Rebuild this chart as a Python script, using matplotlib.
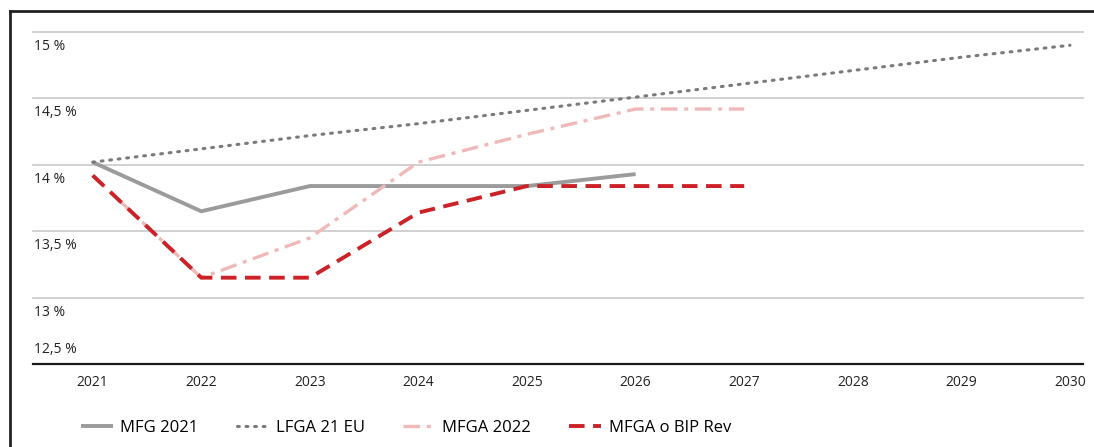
import matplotlib
matplotlib.use("Agg")
import matplotlib.pyplot as plt
import matplotlib.transforms as mtransforms
from matplotlib.lines import Line2D

plt.rcParams['font.family'] = ['Open Sans', 'DejaVu Sans']

# data
years = [2021, 2022, 2023, 2024, 2025, 2026, 2027, 2028, 2029, 2030]
mfg_2021 = [14.02, 13.65, 13.84, 13.84, 13.84, 13.93]
lfga_21_eu = [14.02, 14.12, 14.22, 14.31, 14.41, 14.51, 14.61, 14.71, 14.81, 14.90]
mfga_2022 = [13.92, 13.15, 13.45, 14.02, 14.23, 14.42, 14.42]
mfga_bip_rev = [13.92, 13.15, 13.15, 13.64, 13.84, 13.84, 13.84]
y_ticks = [12.5, 13.0, 13.5, 14.0, 14.5, 15.0]
y_labels = ['12,5 %', '13 %', '13,5 %', '14 %', '14,5 %', '15 %']

W, H = 1094, 447
fig = plt.figure(figsize=(W / 100, H / 100), dpi=100)
ax = fig.add_axes([33 / W, 1 - 364 / H, (1083 - 33) / W, (364 - 32) / H])

ax.plot(years[:6], mfg_2021, color='#9b9b9b', lw=2.8, solid_capstyle='butt', label='MFG 2021')
ax.plot(years, lfga_21_eu, color='#7a7a7a', lw=2.2, linestyle=(0, (0.6, 2.2)),
        dash_capstyle='round', label='LFGA 21 EU')
ax.plot(years[:7], mfga_2022, color='#f0b9b9', lw=2.4, linestyle=(0, (5, 2, 1.2, 2)),
        label='MFGA 2022')
ax.plot(years[:7], mfga_bip_rev, color='#cc2127', lw=2.8, linestyle=(0, (4, 2.2)),
        label='MFGA o BIP Rev')

ax.set_xlim(2020.45, 2030.12)
ax.set_ylim(12.5, 15.0)

for s in ['top', 'left', 'right']:
    ax.spines[s].set_visible(False)
ax.spines['bottom'].set_color('#1a1a1a')
ax.spines['bottom'].set_linewidth(1.6)

ax.set_yticks([])
for v in y_ticks[1:]:
    ax.axhline(v, color='#c8c8c8', lw=1.2, zorder=0, clip_on=False)

trans = mtransforms.blended_transform_factory(ax.transAxes, ax.transData)
below = mtransforms.ScaledTranslation(0, -5 / 72, fig.dpi_scale_trans)
above = mtransforms.ScaledTranslation(0, 5 / 72, fig.dpi_scale_trans)
for v, lab in zip(y_ticks, y_labels):
    if v == y_ticks[0]:
        ax.text(0.001, v, lab, transform=trans + above, ha='left', va='bottom',
                fontsize=10, color='#222222')
    else:
        ax.text(0.001, v, lab, transform=trans + below, ha='left', va='top',
                fontsize=10, color='#222222')

ax.set_xticks(years)
ax.set_xticklabels([str(y) for y in years], fontsize=10, color='#222222')
ax.tick_params(axis='x', length=0, pad=8)

fig.legend(loc='lower left', bbox_to_anchor=(66 / W, -4 / H), ncol=4, frameon=False,
           fontsize=12, handlelength=1.9, columnspacing=2.3, handletextpad=0.45)

# outer frame of the figure
fig.add_artist(Line2D([10 / W, 1.0], [1 - 11 / H, 1 - 11 / H], transform=fig.transFigure,
                      color='#222222', lw=2))
fig.add_artist(Line2D([10 / W, 10 / W], [0, 1 - 11 / H], transform=fig.transFigure,
                      color='#222222', lw=2))

fig.savefig('out.png', dpi=100)
